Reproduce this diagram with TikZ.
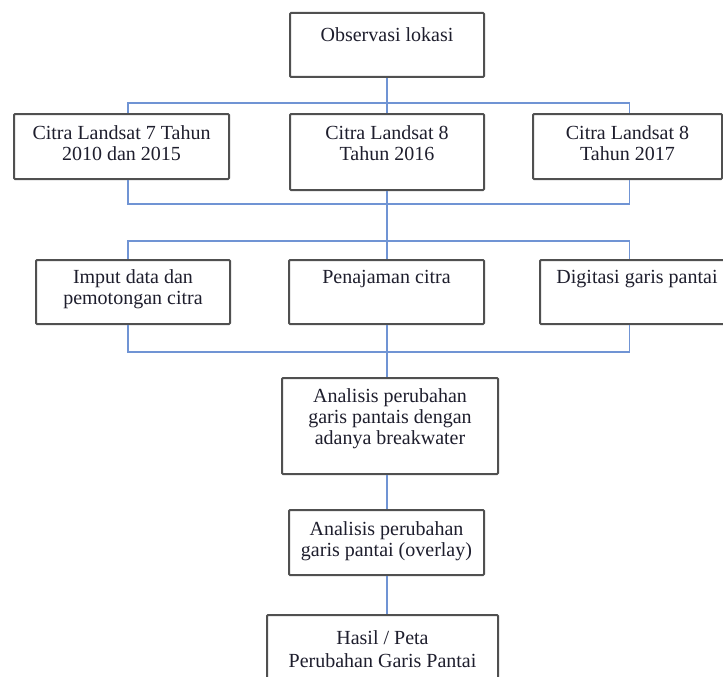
\documentclass[tikz,border=0pt]{standalone}
\usepackage{fontspec}
\setmainfont{Liberation Serif}
\usetikzlibrary{positioning}

\definecolor{garisbiru}{RGB}{112,148,212}
\definecolor{tepikotak}{RGB}{80,80,80}
\definecolor{tulisan}{RGB}{30,30,45}

\tikzset{
  kotak/.style={draw=tepikotak, line width=2pt, rounded corners=1pt, fill=white,
    anchor=north, align=center, inner xsep=0pt, inner ysep=0pt,
    text=tulisan, font=\fontsize{20}{21}\selectfont},
  garis/.style={draw=garisbiru, line width=1.5pt}
}

\begin{document}
\begin{tikzpicture}[x=1pt,y=1pt]
    \useasboundingbox (0,0) rectangle (723,-677);

    \node[kotak, minimum width=194pt, text height=29pt, text depth=35pt] (obs) at (387,-12) {Observasi lokasi};

    \node[kotak, minimum width=215pt, text height=46pt, text depth=19pt] (citra7) at (121.5,-113) {Citra Landsat 7 Tahun\\2010 dan 2015};
    \node[kotak, minimum width=194pt, text height=46pt, text depth=30pt] (citra16) at (387,-113) {Citra Landsat 8\\Tahun 2016};
    \node[kotak, minimum width=189pt, text height=46pt, text depth=19pt] (citra17) at (627.5,-113) {Citra Landsat 8\\Tahun 2017};

    \node[kotak, minimum width=194pt, text height=44pt, text depth=20pt] (imput) at (133,-259) {Imput data dan\\pemotongan citra};
    \node[kotak, minimum width=195pt, text height=23pt, text depth=41pt] (penajaman) at (386.5,-259) {Penajaman citra};
    \node[kotak, minimum width=194pt, text height=23pt, text depth=41pt] (digitasi) at (637,-259) {Digitasi garis pantai};

    \node[kotak, minimum width=216pt, text height=66pt, text depth=30pt] (analisis) at (390,-377) {Analisis perubahan\\garis pantais dengan\\adanya breakwater};
    \node[kotak, minimum width=195pt, text height=46pt, text depth=19pt] (overlay) at (386.5,-509) {Analisis perubahan\\garis pantai (overlay)};
    \node[kotak, minimum width=231pt, text height=52pt, text depth=28pt, font=\fontsize{20}{23}\selectfont] (hasil) at (382.5,-614) {Hasil / Peta\\Perubahan Garis Pantai};

    \coordinate (kiri) at (128,0);
    \coordinate (kanan) at (629.5,0);
    \coordinate (bus1) at (387,-103);
    \coordinate (bus2) at (387,-204);
    \coordinate (bus3) at (387,-241);
    \coordinate (bus4) at (387,-352);

    \draw[garis] (obs.south -| bus1) -- (bus1);
    \draw[garis] (citra7.north -| kiri) |- (bus1) -| (citra17.north -| kanan);
    \draw[garis] (bus1) -- (citra16.north -| bus1);

    \draw[garis] (citra7.south -| kiri) |- (bus2) -| (citra17.south -| kanan);
    \draw[garis] (citra16.south -| bus2) -- (bus3);

    \draw[garis] (imput.north -| kiri) |- (bus3) -| (digitasi.north -| kanan);
    \draw[garis] (bus3) -- (penajaman.north -| bus3);

    \draw[garis] (imput.south -| kiri) |- (bus4) -| (digitasi.south -| kanan);
    \draw[garis] (penajaman.south -| bus4) -- (analisis.north -| bus4);

    \draw[garis] (analisis.south -| bus4) -- (overlay.north -| bus4);
    \draw[garis] (overlay.south -| bus4) -- (hasil.north -| bus4);
\end{tikzpicture}
\end{document}
